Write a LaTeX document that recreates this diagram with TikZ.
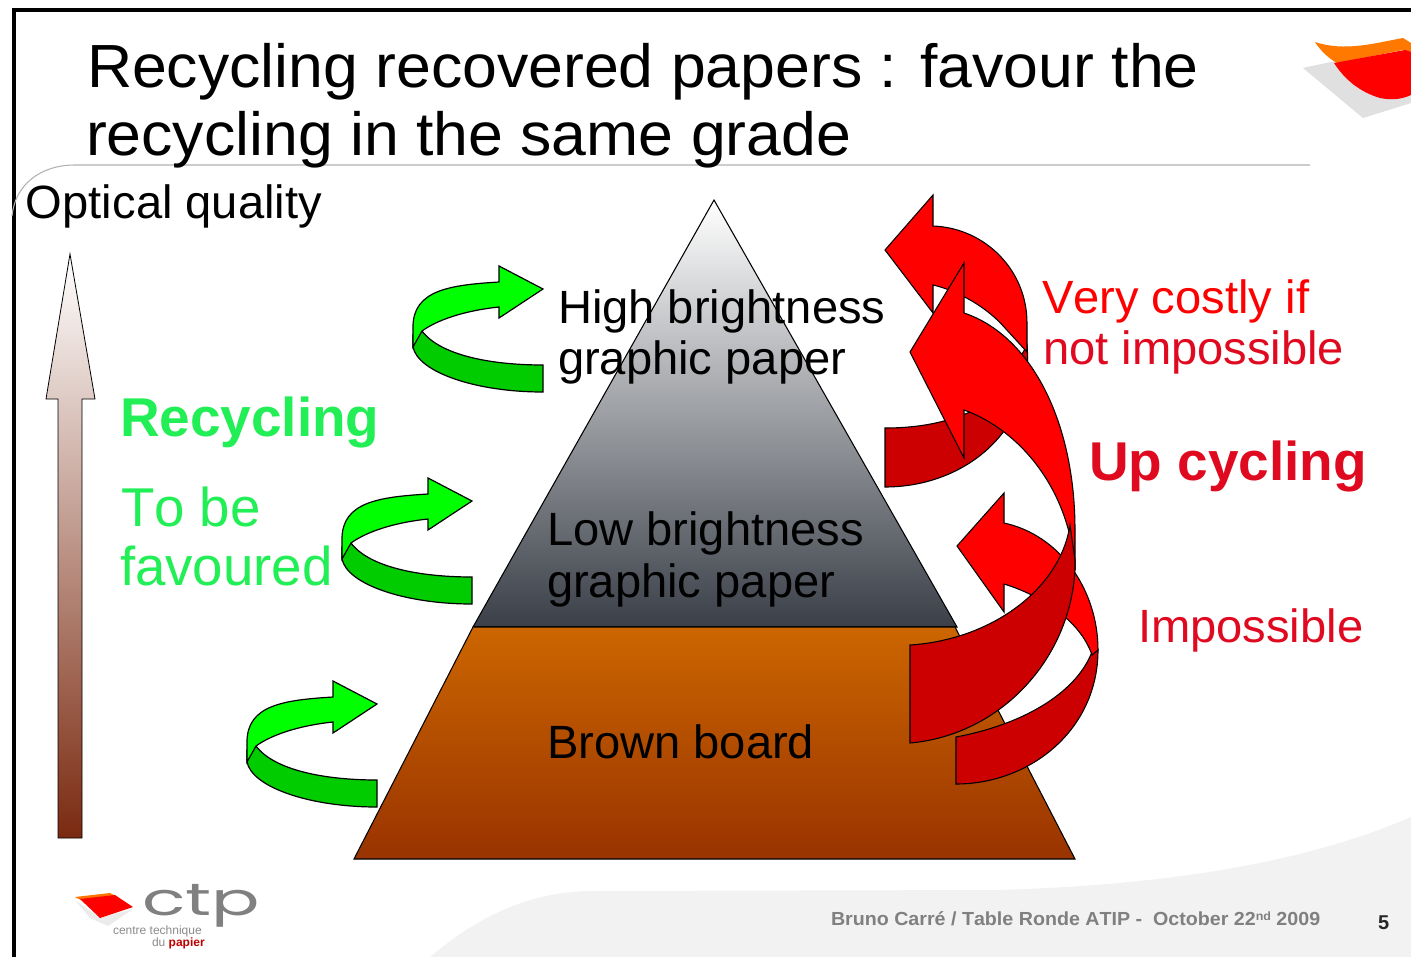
\documentclass[tikz,border=0pt]{standalone}
\usepackage{fontspec}
\setmainfont[Kerning=Off]{Liberation Sans}
\newfontfamily\logofont{Poppins}
\definecolor{rbright}{HTML}{FF0000}
\definecolor{rdark}{HTML}{CC0000}
\definecolor{gbright}{HTML}{00FF00}
\definecolor{gdark}{HTML}{00CC00}
\definecolor{gtext}{HTML}{22EE55}
\definecolor{foot}{HTML}{F2F2F2}
\definecolor{grayA}{HTML}{A8A8A8}
\definecolor{grayB}{HTML}{3A3F48}
\definecolor{brownA}{HTML}{CC6600}
\definecolor{brownB}{HTML}{993300}
\definecolor{scaleA}{HTML}{D8C4BC}
\definecolor{scaleB}{HTML}{7A2A10}
\definecolor{rtext}{HTML}{E00A20}
\tikzset{
  lbl/.style={anchor=base west,inner sep=0pt,outer sep=0pt},
  big/.style={lbl,xscale=1.01,font=\fontsize{35}{35}\selectfont},
  bigb/.style={lbl,xscale=1.005,font=\fontsize{41}{41}\selectfont\bfseries},
  ttl/.style={lbl,xscale=1.027,font=\fontsize{45.7}{46}\selectfont},
  rarrow/.style={draw=black,line width=0.8pt,line join=miter,fill=rbright},
  rarrowd/.style={draw=black,line width=0.8pt,line join=miter,fill=rdark},
  garrow/.style={draw=black,line width=0.9pt,line join=miter,fill=gbright},
  garrowd/.style={draw=black,line width=0.9pt,line join=miter,fill=gdark}
}
\newcommand{\greenarrow}[2]{%
  \begin{scope}[shift={(#1,#2)}]
    \draw[garrowd] (413,335) -- (413,347) .. controls (418,372) and (475,392) .. (543,392)
      -- (543,365) .. controls (490,365) and (440,355) .. (422,331) -- cycle;
    \draw[garrow] (413,347) -- (413,327) .. controls (413,290) and (450,285) .. (499,282)
      -- (499,266) -- (543,289) -- (499,318) -- (499,307)
      .. controls (470,310) and (440,318) .. (422,331) -- cycle;
  \end{scope}}
\begin{document}
\begin{tikzpicture}[x=0.75pt,y=-0.75pt]
\useasboundingbox (0,0) rectangle (1411,957);
\fill[white] (0,0) rectangle (1411,957);
% footer band
\fill[foot] (430,957) .. controls (480,915) and (530,892) .. (590,891) -- (1000,890)
  .. controls (1160,885) and (1300,865) .. (1411,817) -- (1411,957) -- cycle;
% frame and title rule
\draw[black,line width=3pt] (1411,10) -- (14,10) -- (14,957);
\draw[black!30,line width=0.8pt] (1310,165) -- (75,165) .. controls (40,165) and (15,185) .. (12,216);
% top right logo
\fill[black!12] (1303,68) -- (1340,60) -- (1411,55) -- (1411,103) -- (1363,118) -- cycle;
\fill[orange!95!red] (1315,42) .. controls (1345,52) and (1375,43) .. (1403,38) -- (1411,43) -- (1411,53)
  -- (1403,50) -- (1337,63) .. controls (1328,58) and (1320,50) .. (1315,42) -- cycle;
\fill[rbright] (1334,63) -- (1405,50) -- (1411,52) -- (1411,95) .. controls (1400,100) and (1390,100) .. (1380,98)
  .. controls (1360,92) and (1345,80) .. cycle;
% pyramid
\draw[black,line width=0.8pt,top color=white,middle color=grayA,bottom color=grayB]
  (714,200) -- (957,627) -- (473,627) -- cycle;
\draw[black,line width=0.8pt,top color=brownA,bottom color=brownB]
  (473,627) -- (955,627) -- (1075,859) -- (354,859) -- cycle;
% vertical scale arrow
\draw[black,line width=0.6pt,top color=white,middle color=scaleA,bottom color=scaleB]
  (70,254) -- (95,399) -- (82,399) -- (82,838) -- (58,838) -- (58,399) -- (46,399) -- cycle;
% green arrows
\greenarrow{0}{0}
\greenarrow{-71}{212}
\greenarrow{-166}{415}
% red arrows
\draw[rarrowd] (885,428) .. controls (925,428) and (965,420) .. (1000,395) -- (1027,345)
  .. controls (1035,430) and (965,487) .. (885,487) -- cycle;
\draw[rarrow] (885,250) -- (933,195) -- (933,226) .. controls (985,228) and (1027,270) .. (1027,323)
  -- (1027,352) -- (1005,328) .. controls (985,305) and (955,290) .. (933,285) -- (933,313) -- cycle;
\draw[rarrowd] (956,737) .. controls (1020,725) and (1075,695) .. (1092,652) -- (1098,650)
  .. controls (1098,730) and (1030,784) .. (956,784) -- cycle;
\draw[rarrow] (957,546) -- (1004,493) -- (1004,523) .. controls (1060,535) and (1098,590) .. (1098,650)
  -- (1092,655) .. controls (1080,620) and (1040,595) .. (1004,584) -- (1004,612) -- cycle;
\draw[rarrow] (910,352) -- (964,263) -- (964,313) .. controls (1030,335) and (1075,420) .. (1075,530)
  -- (1075,570) .. controls (1070,490) and (1020,430) .. (964,410) -- (964,458) -- cycle;
\draw[rarrowd] (910,645) .. controls (990,640) and (1060,590) .. (1070,525) -- (1075,560) -- (1075,570)
  .. controls (1070,660) and (1000,735) .. (910,743) -- cycle;
% title
\node[ttl] (t1) at (87,87) {Recycling recovered papers : favour the};
\node[ttl] (t2) at (86,155) {recycling in the same grade};
\node[big] (oq) at (26,218) {Optical quality};
% pyramid labels
\node[big] (h1) at (558,323) {High brightness};
\node[big] (h2) at (558,374) {graphic paper};
\node[big] (l1) at (547,545) {Low brightness};
\node[big] (l2) at (547,597) {graphic paper};
\node[big] (bb) at (547,758) {Brown board};
% left labels
\node[bigb,text=gtext] (rc) at (120,436) {Recycling};
\node[lbl,font=\fontsize{41}{41}\selectfont,text=gtext] (f1) at (121,526) {To be};
\node[lbl,font=\fontsize{41}{41}\selectfont,text=gtext] (f2) at (120,585) {favoured};
% right labels
\node[big,text=rbright] (v1) at (1042,313) {Very costly if};
\node[big,text=rtext] (v2) at (1043,364) {not impossible};
\node[bigb,text=rtext] (up) at (1089,480) {Up cycling};
\node[big,text=rtext] (im) at (1138,642) {Impossible};
% footer text
\node[lbl,xscale=1.038,font=\fontsize{14.2}{15}\selectfont\bfseries,text=black!50] (ft) at (831,925) {Bruno Carré / Table Ronde ATIP -\ \ October 22\raisebox{0.5ex}{\fontsize{9}{9}\selectfont nd} 2009};
\node[lbl,font=\fontsize{15}{15}\selectfont\bfseries,text=black!85] (pg) at (1378,929) {5};
% bottom left logo
\fill[black!8] (75,900) -- (100,918) -- (133,909) -- (108,926) -- (90,918) -- cycle;
\fill[orange!90!red] (75,897) -- (110,893) -- (118,897) -- (85,902) -- cycle;
\fill[rbright] (80,899) -- (115,895) -- (133,907) -- (100,918) -- cycle;
\node[lbl,xscale=1.58,font=\fontsize{34}{34}\logofont,text=black!50] (lg) at (142,915) {ctp};
\node[lbl,font=\fontsize{9}{10}\selectfont,text=black!45] (lg2) at (113,934) {centre technique};
\node[lbl,font=\fontsize{9}{10}\selectfont,text=black!45] (lg3) at (152,946) {du \textcolor{red!75!black}{\textbf{papier}}};
\end{tikzpicture}
\end{document}
